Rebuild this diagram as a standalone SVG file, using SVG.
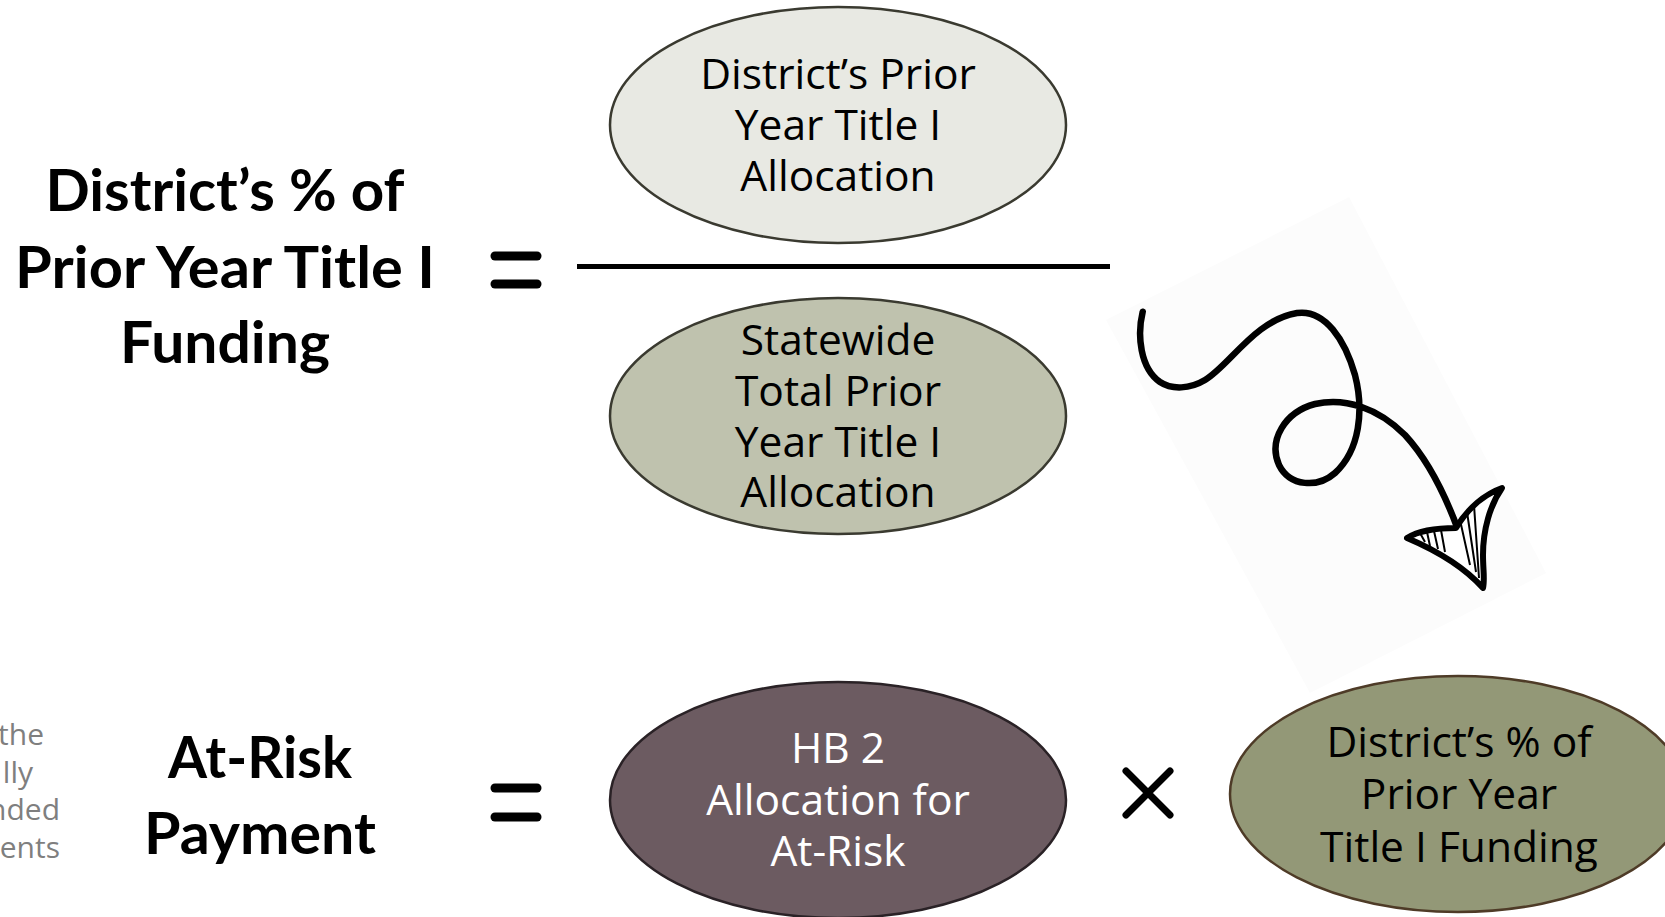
<svg xmlns="http://www.w3.org/2000/svg" width="1665" height="917" viewBox="0 0 1665 917">
<style>
.title{font-family:Lato,"Open Sans","Liberation Sans",sans-serif;font-weight:700;font-size:57px;fill:#000;text-anchor:middle}
.lbl{font-family:"Open Sans","Noto Sans","Liberation Sans",sans-serif;font-size:42.5px;fill:#000;text-anchor:middle}
.side{font-family:"Open Sans","Noto Sans","Liberation Sans",sans-serif;font-size:30px;fill:#7f7f7f;text-anchor:end}
.op{stroke:#000;stroke-linecap:round;fill:none}
</style>
<rect width="1665" height="917" fill="#fff"/>
<g id="side-text">
<text class="side" x="44" y="745">the</text>
<text class="side" x="33" y="783">lly</text>
<text class="side" x="60" y="820">nded</text>
<text class="side" x="60" y="858">ents</text>
</g>
<g id="title-pct">
<text class="title" x="225" y="211" textLength="359" lengthAdjust="spacingAndGlyphs">District’s % of</text>
<text class="title" x="225" y="288" textLength="420" lengthAdjust="spacingAndGlyphs">Prior Year Title I</text>
<text class="title" x="225" y="363" textLength="210" lengthAdjust="spacingAndGlyphs">Funding</text>
</g>
<g id="title-atrisk">
<text class="title" x="260" y="778" textLength="184" lengthAdjust="spacingAndGlyphs">At-Risk</text>
<text class="title" x="260" y="854" textLength="232" lengthAdjust="spacingAndGlyphs">Payment</text>
</g>
<g id="operators">
<line class="op" x1="495" y1="256" x2="537" y2="256" stroke-width="9"/>
<line class="op" x1="495" y1="284" x2="537" y2="284" stroke-width="9"/>
<line x1="577" y1="266.5" x2="1110" y2="266.5" stroke="#000" stroke-width="5"/>
<line class="op" x1="495" y1="788" x2="537" y2="788" stroke-width="9"/>
<line class="op" x1="495" y1="817" x2="537" y2="817" stroke-width="9"/>
<path class="op" d="M1126,771 L1170,815 M1170,771 L1126,815" stroke-width="7"/>
</g>
<g id="node-district-prior">
<ellipse cx="838" cy="125" rx="228" ry="118" fill="#e8e9e3" stroke="#3a3a30" stroke-width="2.5"/>
<text class="lbl" x="838" y="89">District’s Prior</text>
<text class="lbl" x="838" y="140">Year Title I</text>
<text class="lbl" x="838" y="191">Allocation</text>
</g>
<g id="node-statewide">
<ellipse cx="838" cy="416" rx="228" ry="118" fill="#bfc2ae" stroke="#3a3a30" stroke-width="2.5"/>
<text class="lbl" x="838" y="355">Statewide</text>
<text class="lbl" x="838" y="406">Total Prior</text>
<text class="lbl" x="838" y="457">Year Title I</text>
<text class="lbl" x="838" y="507">Allocation</text>
</g>
<g id="node-hb2">
<ellipse cx="838" cy="800" rx="228" ry="118" fill="#6c5b61" stroke="#2a2226" stroke-width="2.5"/>
<text class="lbl" x="838" y="763" style="fill:#fff">HB 2</text>
<text class="lbl" x="838" y="815" style="fill:#fff">Allocation for</text>
<text class="lbl" x="838" y="866" style="fill:#fff">At-Risk</text>
</g>
<g id="node-district-pct">
<ellipse cx="1458" cy="794" rx="228" ry="118" fill="#939877" stroke="#4e3b27" stroke-width="2.5"/>
<text class="lbl" x="1459" y="757">District’s % of</text>
<text class="lbl" x="1459" y="809">Prior Year</text>
<text class="lbl" x="1459" y="862">Title I Funding</text>
</g>
<g id="connectors">
<path d="M1349,197 L1546,573 L1310,693 L1106,320 Z" fill="#fcfcfc" stroke="none"/>
<path d="M1142.7,311.7 C1137,335 1140,368 1160,382 C1172,390 1190,389 1205,380 C1230,365 1255,320 1297,313 C1325,309 1345,340 1355,375 C1364,410 1360,450 1335,473 C1318,488 1290,487 1279,465 C1268,440 1285,412 1315,404 C1345,397 1378,408 1405,435 C1428,460 1445,495 1457,527" fill="none" stroke="#000" stroke-width="6.5" stroke-linecap="round" stroke-linejoin="round"/>
<path d="M1407,538 C1420,530 1440,528 1456,528 C1468,508 1485,494 1502,488 C1490,505 1483,530 1483,555 C1483,570 1485,580 1483,588 C1465,568 1440,552 1407,538 Z" fill="#fff" stroke="#000" stroke-width="6" stroke-linejoin="round"/>
<path d="M1420,533 L1425,542 M1427,532 L1430,546 M1434,531 L1438,549 M1441,530 L1445,552 M1460,520 L1470,565 M1467,512 L1476,572 M1474,505 L1479,578" fill="none" stroke="#000" stroke-width="2"/>
</g>
</svg>
